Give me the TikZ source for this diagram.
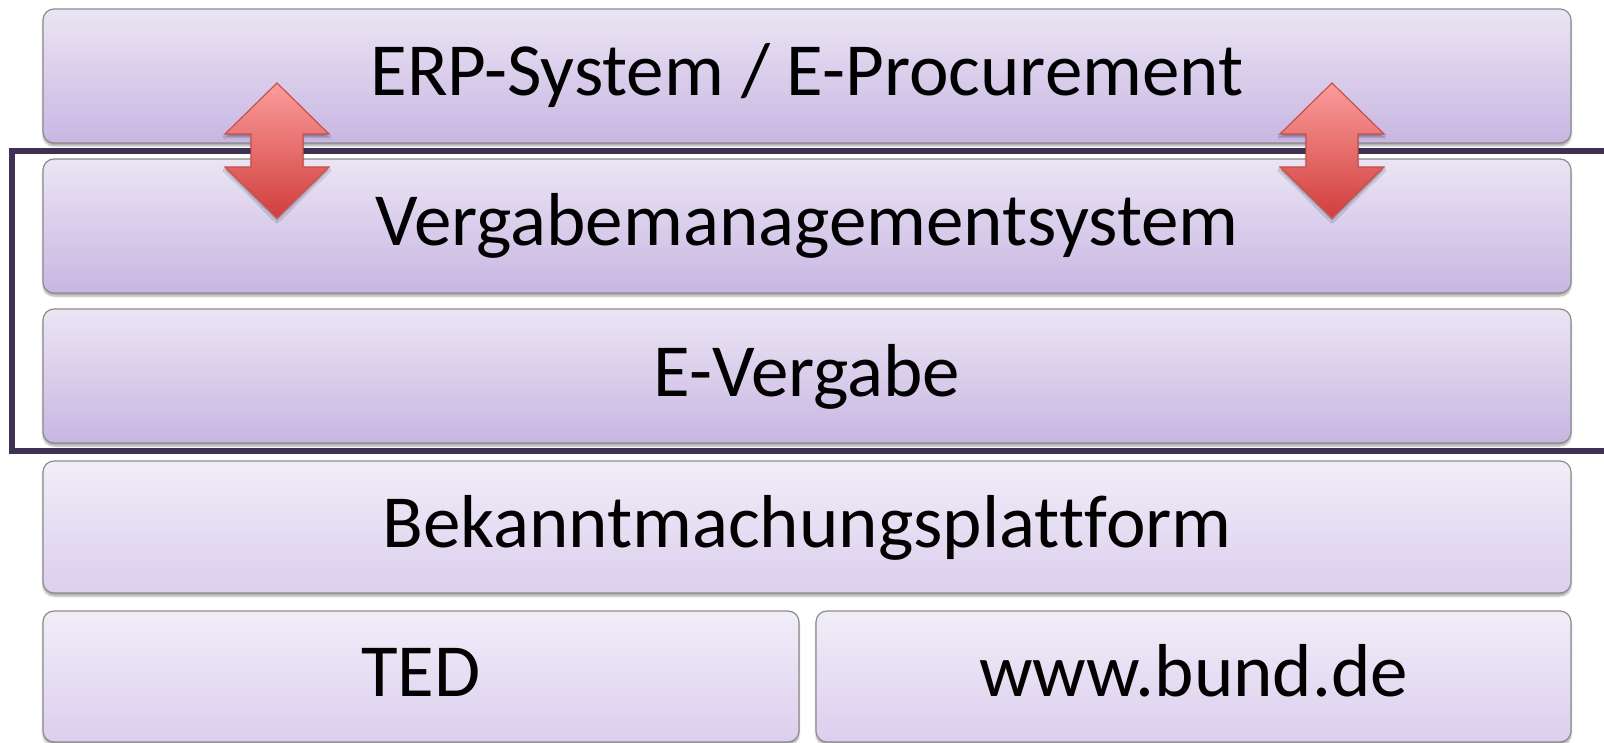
\documentclass[tikz,border=0pt]{standalone}
\usepackage{fontspec}
\setmainfont[Ligatures=NoCommon, RawFeature={-liga;-clig;-dlig}]{Carlito}
\usetikzlibrary{shadows.blur}
\definecolor{boxtopA}{HTML}{EBE5F4}
\definecolor{boxbotA}{HTML}{C8B6E2}
\definecolor{boxtopB}{HTML}{F1EDF8}
\definecolor{boxbotB}{HTML}{DBCFEE}
\definecolor{boxline}{HTML}{8C8C8C}
\definecolor{framecol}{HTML}{3E3153}
\definecolor{arrtop}{HTML}{FB9D9B}
\definecolor{arrbot}{HTML}{D03E3C}
\definecolor{arrline}{HTML}{C9504D}
\tikzset{
  layer/.style={draw=boxline, line width=1.2pt, rounded corners=11pt,
    inner sep=0pt, font=\fontsize{75}{90}\selectfont,
    text height=48pt, text depth=8pt,
    blur shadow={shadow xshift=0pt, shadow yshift=-3pt, shadow blur steps=6, shadow opacity=35}},
  layerA/.style={layer, top color=boxtopA, bottom color=boxbotA},
  layerB/.style={layer, top color=boxtopB, bottom color=boxbotB},
  frameline/.style={draw=framecol, line width=5.5pt},
  dblarrow/.style={draw=arrline, line width=1.2pt, line join=miter,
    top color=arrtop, bottom color=arrbot,
    blur shadow={shadow xshift=0pt, shadow yshift=-3pt, shadow blur steps=6, shadow opacity=35}}
}
\begin{document}
\begin{tikzpicture}[x=1pt, y=-1pt]
\useasboundingbox (0,0) rectangle (1604,743);
% layers
\node[layerA, minimum width=1528pt, minimum height=134pt] (erp) at (807,76) {ERP-System / E-Procurement};
\node[layerA, minimum width=1528pt, minimum height=134pt] (vms) at (807,226) {Vergabemanagementsystem};
\node[layerA, minimum width=1528pt, minimum height=134pt] (ev) at (807,376) {E-Vergabe};
\node[layerB, minimum width=1528pt, minimum height=132pt] (bek) at (807,527) {Bekanntmachungsplat\kern0pt tform};
\node[layerB, minimum width=756pt, minimum height=131pt] (ted) at (421,676.5) {TED};
\node[layerB, minimum width=755pt, minimum height=131pt] (bund) at (1193.5,676.5) {www.bund.de};
% frame around Vergabemanagementsystem and E-Vergabe
\draw[frameline] (1610,151) -- (12,151) -- (12,451) -- (1610,451);
% double arrows between ERP and Vergabemanagementsystem
\coordinate (la) at (277,83);
\coordinate (ra) at (1332,83);
\foreach \c in {la, ra} {
  \path[dblarrow] (\c) -- ++(52,51) -- ++(-26,0) -- ++(0,33) -- ++(26,0)
     -- ++(-52,51) -- ++(-52,-51) -- ++(26,0) -- ++(0,-33) -- ++(-26,0) -- cycle;
}
\end{tikzpicture}
\end{document}
